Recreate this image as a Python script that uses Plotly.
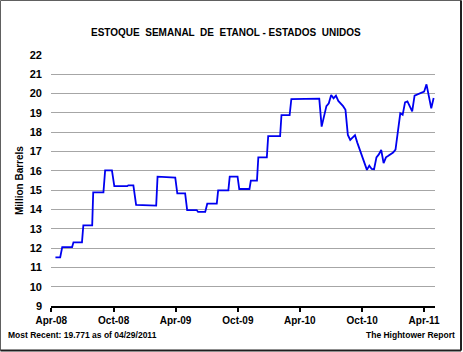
import plotly.graph_objects as go

# Monthly-reported period (vertices of the stepped line)
monthly_dates = [
    "2008-04-13", "2008-04-27", "2008-05-03", "2008-06-01", "2008-06-05", "2008-06-30",
    "2008-07-04", "2008-07-30", "2008-08-02", "2008-09-01", "2008-09-06", "2008-09-26",
    "2008-10-03", "2008-11-10", "2008-11-13", "2008-11-28", "2008-12-06", "2009-02-03",
    "2009-02-07", "2009-03-31", "2009-04-06", "2009-04-29", "2009-05-05", "2009-06-02",
    "2009-06-06", "2009-06-27", "2009-07-03", "2009-07-31", "2009-08-04", "2009-09-03",
    "2009-09-07", "2009-09-30", "2009-10-05", "2009-11-04", "2009-11-08", "2009-11-26",
    "2009-11-30", "2009-12-25", "2009-12-29", "2010-02-02", "2010-02-06", "2010-03-02",
    "2010-03-07",
]
monthly_values = [
    11.52, 11.52, 12.05, 12.05, 12.30, 12.30,
    13.18, 13.18, 14.89, 14.89, 16.02, 16.02,
    15.21, 15.21, 15.25, 15.25, 14.24, 14.20,
    15.70, 15.65, 14.83, 14.83, 13.97, 13.97,
    13.87, 13.87, 14.30, 14.30, 14.99, 14.99,
    15.70, 15.70, 15.06, 15.06, 15.49, 15.49,
    16.70, 16.70, 17.80, 17.80, 18.89, 18.89,
    19.72,
]

# Weekly-reported period
weekly_dates = [
    "2010-05-28", "2010-06-04", "2010-06-11", "2010-06-18", "2010-06-25",
    "2010-07-02", "2010-07-09", "2010-07-16", "2010-07-23", "2010-07-30",
    "2010-08-06", "2010-08-13", "2010-08-20", "2010-08-27",
    "2010-09-03", "2010-09-10", "2010-09-17", "2010-09-24",
    "2010-10-01", "2010-10-08", "2010-10-15", "2010-10-22", "2010-10-29",
    "2010-11-05", "2010-11-12", "2010-11-19", "2010-11-26",
    "2010-12-03", "2010-12-10", "2010-12-17", "2010-12-24", "2010-12-31",
    "2011-01-07", "2011-01-14", "2011-01-21", "2011-01-28",
    "2011-02-04", "2011-02-11", "2011-02-18", "2011-02-25",
    "2011-03-04", "2011-03-11", "2011-03-18", "2011-03-25",
    "2011-04-01", "2011-04-08", "2011-04-15", "2011-04-22", "2011-04-29",
]
weekly_values = [
    19.74, 18.29, 18.85, 19.35, 19.50,
    19.93, 19.76, 19.90, 19.62, 19.50,
    19.35, 19.16, 17.86, 17.60,
    17.75, 17.85, 17.45, 17.10,
    16.75, 16.30, 16.05, 16.27, 16.10,
    16.08, 16.70, 16.85, 17.08,
    16.40, 16.70, 16.78, 16.85, 16.95,
    17.10, 17.95, 18.98, 18.90,
    19.55, 19.60, 19.35, 19.08,
    19.90, 19.95, 20.00, 20.05,
    20.10, 20.48, 19.90, 19.24, 19.771,
]

tick_dates = ["2008-04-01", "2008-10-01", "2009-04-01", "2009-10-01",
              "2010-04-01", "2010-10-01", "2011-04-01"]
tick_labels = ["Apr-08", "Oct-08", "Apr-09", "Oct-09", "Apr-10", "Oct-10", "Apr-11"]
y_ticks = list(range(9, 23))

title_text = "ESTOQUE  SEMANAL  DE  ETANOL - ESTADOS  UNIDOS"
y_title = "Million Barrels"
footer_left = "Most Recent: 19.771 as of 04/29/2011"
footer_right = "The Hightower Report"

W, H = 463, 352
L, R, T, B = 51, 28, 55, 46
PW, PH = W - L - R, H - T - B


def px(x):
    return (x - L) / PW


def py(y):
    return 1 - (y - T) / PH


FONT = "Arial, Liberation Sans, sans-serif"

fig = go.Figure()
fig.add_trace(go.Scatter(
    x=monthly_dates + weekly_dates,
    y=monthly_values + weekly_values,
    mode="lines",
    line=dict(color="#0000F0", width=1.8),
    showlegend=False,
))

fig.update_layout(
    width=W, height=H,
    margin=dict(l=L, r=R, t=T, b=B),
    paper_bgcolor="white",
    plot_bgcolor="white",
    font=dict(family=FONT, color="black"),
    xaxis=dict(
        range=["2008-03-31", "2011-05-03"],
        tickvals=tick_dates, ticktext=tick_labels,
        showgrid=False, showline=True, linecolor="black", linewidth=2,
        ticks="outside", ticklen=4, tickwidth=1.5, tickcolor="black",
        tickfont=dict(family=FONT, size=10, color="black", weight="bold"),
        zeroline=False,
    ),
    yaxis=dict(
        range=[9, 22], tickvals=y_ticks,
        showgrid=True, gridcolor="#A6A6A6", gridwidth=1.2,
        showline=False, zeroline=False, ticks="",
        ticklabelstandoff=8,
        tickfont=dict(family=FONT, size=11, color="black", weight="bold"),
    ),
    annotations=[
        dict(text=title_text, x=px(226), y=py(32), xref="paper", yref="paper",
             showarrow=False, xanchor="center", yanchor="middle",
             font=dict(family=FONT, size=10, color="black", weight="bold")),
        dict(text=y_title, x=px(19), y=py(181), xref="paper", yref="paper",
             showarrow=False, xanchor="center", yanchor="middle", textangle=-90,
             font=dict(family=FONT, size=10, color="black", weight="bold")),
        dict(text=footer_left, x=px(6), y=py(335), xref="paper", yref="paper",
             showarrow=False, xanchor="left", yanchor="middle",
             font=dict(family=FONT, size=8.5, color="black", weight="bold")),
        dict(text=footer_right, x=px(457), y=py(335), xref="paper", yref="paper",
             showarrow=False, xanchor="right", yanchor="middle",
             font=dict(family=FONT, size=8.5, color="black", weight="bold")),
    ],
    shapes=[
        dict(type="rect", xref="paper", yref="paper",
             x0=px(0.5), x1=px(461), y0=py(350.5), y1=py(0.5),
             line=dict(color="#606060", width=1)),
        dict(type="line", xref="paper", yref="paper",
             x0=px(461), x1=px(461), y0=py(350.5), y1=py(0.5),
             line=dict(color="#202020", width=2)),
        dict(type="line", xref="paper", yref="paper",
             x0=px(0.5), x1=px(461), y0=py(350.5), y1=py(350.5),
             line=dict(color="#202020", width=2)),
    ],
)

fig.write_html("out.html")
